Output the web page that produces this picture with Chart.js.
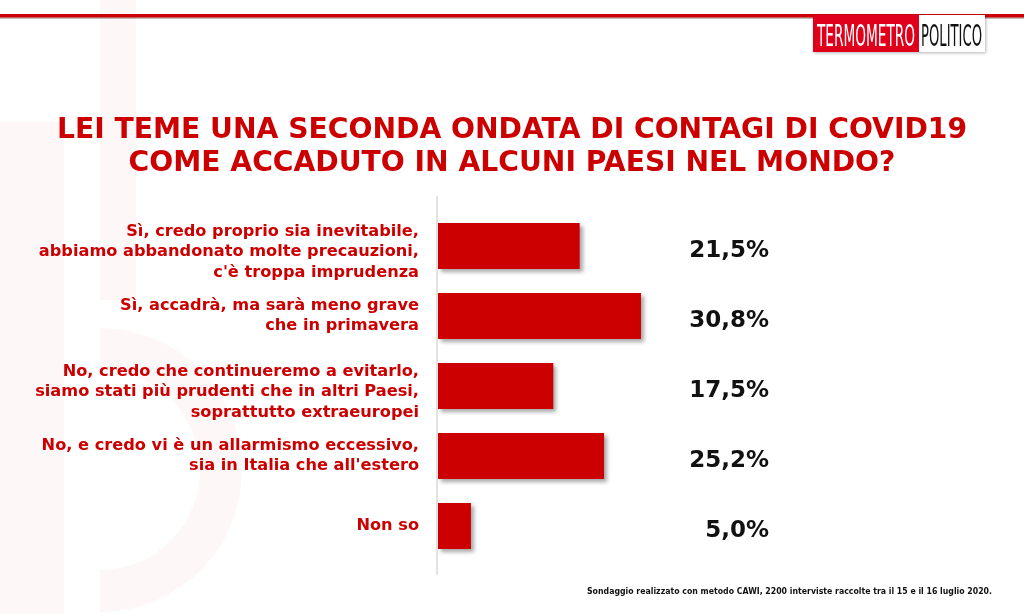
<!DOCTYPE html>
<html><head><meta charset="utf-8">
<script src="https://cdn.jsdelivr.net/npm/chart.js@4"></script>
<style>html,body{margin:0;padding:0;background:#fff;}canvas{display:block;}</style>
</head><body>
<canvas id="c" width="1024" height="614"></canvas>
<script>
const titleLines = ["LEI TEME UNA SECONDA ONDATA DI CONTAGI DI COVID19", "COME ACCADUTO IN ALCUNI PAESI NEL MONDO?"];
const categories = [
  ["Sì, credo proprio sia inevitabile,", "abbiamo abbandonato molte precauzioni,", "c'è troppa imprudenza"],
  ["Sì, accadrà, ma sarà meno grave", "che in primavera"],
  ["No, credo che continueremo a evitarlo,", "siamo stati più prudenti che in altri Paesi,", "soprattutto extraeuropei"],
  ["No, e credo vi è un allarmismo eccessivo,", "sia in Italia che all'estero"],
  ["Non so"]
];
const values = [21.5, 30.8, 17.5, 25.2, 5.0];
const footnote = "Sondaggio realizzato con metodo CAWI, 2200 interviste raccolte tra il 15 e il 16 luglio 2020.";
const logoLeft = "TERMOMETRO";
const logoRight = "POLITICO";

const RED = "#cc0000";
const FONT = "'DejaVu Sans'";

function fitFont(ctx, text, weight, target, family) {
  ctx.font = weight + " 100px " + family;
  const w = ctx.measureText(text).width;
  const size = 100 * target / w;
  ctx.font = weight + " " + size.toFixed(2) + "px " + family;
  return size;
}

const decor = {
  id: "decor",
  beforeDraw(chart) {
    const ctx = chart.ctx;
    ctx.save();
    ctx.fillStyle = "#fff";
    ctx.fillRect(0, 0, 1024, 614);
    // faint watermark
    ctx.fillStyle = "#fef7f7";
    ctx.fillRect(100, 0, 36, 300);
    ctx.fillRect(0, 122, 64, 492);
    ctx.beginPath();
    ctx.arc(100, 470, 142, -Math.PI / 2, Math.PI / 2, false);
    ctx.arc(100, 470, 100, Math.PI / 2, -Math.PI / 2, true);
    ctx.closePath();
    ctx.fill();
    // header line
    ctx.fillStyle = "rgba(0,0,0,0.25)";
    ctx.fillRect(0, 17, 1024, 2);
    ctx.fillStyle = RED;
    ctx.fillRect(0, 14, 1024, 3.5);
    // logo
    ctx.shadowColor = "rgba(0,0,0,0.3)";
    ctx.shadowBlur = 3; ctx.shadowOffsetX = 1; ctx.shadowOffsetY = 1;
    ctx.fillStyle = "#fff";
    ctx.fillRect(813, 15, 172, 37);
    ctx.shadowColor = "transparent";
    ctx.fillStyle = "#e0001b";
    ctx.fillRect(813, 15, 106, 37);
    ctx.textBaseline = "alphabetic";
    ctx.textAlign = "left";
    const logoFont = "400 31px 'Liberation Sans Narrow', 'DejaVu Sans Condensed', sans-serif";
    ctx.save();
    ctx.translate(817, 46);
    ctx.font = logoFont;
    let w = ctx.measureText(logoLeft).width;
    ctx.scale(98 / w, 1);
    ctx.fillStyle = "#fff";
    ctx.fillText(logoLeft, 0, 0);
    ctx.restore();
    ctx.save();
    ctx.translate(921, 46);
    ctx.font = logoFont;
    w = ctx.measureText(logoRight).width;
    ctx.scale(61 / w, 1);
    ctx.fillStyle = "#111";
    ctx.fillText(logoRight, 0, 0);
    ctx.restore();
    // axis line
    const x0 = chart.scales.x.getPixelForValue(0);
    ctx.fillStyle = "#e2e2e2";
    ctx.fillRect(x0 - 2, 196, 2, 379);
    ctx.restore();
  },
  beforeDatasetsDraw(chart) {
    const ctx = chart.ctx;
    ctx.save();
    ctx.shadowColor = "rgba(0,0,0,0.35)";
    ctx.shadowBlur = 4;
    ctx.shadowOffsetX = 3;
    ctx.shadowOffsetY = 3;
  },
  afterDatasetsDraw(chart) {
    chart.ctx.restore();
  },
  afterDraw(chart) {
    const ctx = chart.ctx;
    ctx.save();
    // title
    ctx.fillStyle = RED;
    ctx.textAlign = "center";
    ctx.textBaseline = "alphabetic";
    fitFont(ctx, titleLines[0], "bold", 910, FONT);
    ctx.fillText(titleLines[0], 512, 138);
    ctx.fillText(titleLines[1], 512, 171);
    // category labels
    const ys = chart.scales.y;
    ctx.textAlign = "right";
    ctx.textBaseline = "middle";
    ctx.font = "bold 16.2px " + FONT;
    categories.forEach((lines, i) => {
      const cy = ys.getPixelForValue(i);
      const lh = 20.5;
      const top = cy - (lines.length - 1) * lh / 2 + (lines.length === 3 ? 6 : 0);
      lines.forEach((ln, j) => ctx.fillText(ln, 419, top + j * lh));
    });
    // values
    ctx.fillStyle = "#111";
    ctx.font = "bold 23px " + FONT;
    values.forEach((v, i) => {
      const cy = ys.getPixelForValue(i);
      ctx.fillText(v.toFixed(1).replace(".", ",") + "%", 769, cy + 5);
    });
    // footnote (horizontally compressed to match the reference width)
    ctx.fillStyle = "#111";
    ctx.font = "bold 9.5px " + FONT;
    const fw = ctx.measureText(footnote).width;
    ctx.translate(992, 592);
    ctx.scale(405 / fw, 1);
    ctx.fillText(footnote, 0, 0);
    ctx.restore();
  }
};

new Chart(document.getElementById("c"), {
  type: "bar",
  data: {
    labels: categories.map(c => c.join(" ")),
    datasets: [{
      data: values,
      backgroundColor: RED,
      borderWidth: 0,
      barPercentage: 0.66,
      categoryPercentage: 1.0
    }]
  },
  options: {
    indexAxis: "y",
    responsive: false,
    animation: false,
    events: [],
    layout: { padding: { left: 438, right: 322.4, top: 211, bottom: 53 } },
    plugins: { legend: { display: false }, tooltip: { enabled: false } },
    scales: {
      x: { display: false, min: 0, max: 40 },
      y: { display: false }
    }
  },
  plugins: [decor]
});
</script>
</body></html>
